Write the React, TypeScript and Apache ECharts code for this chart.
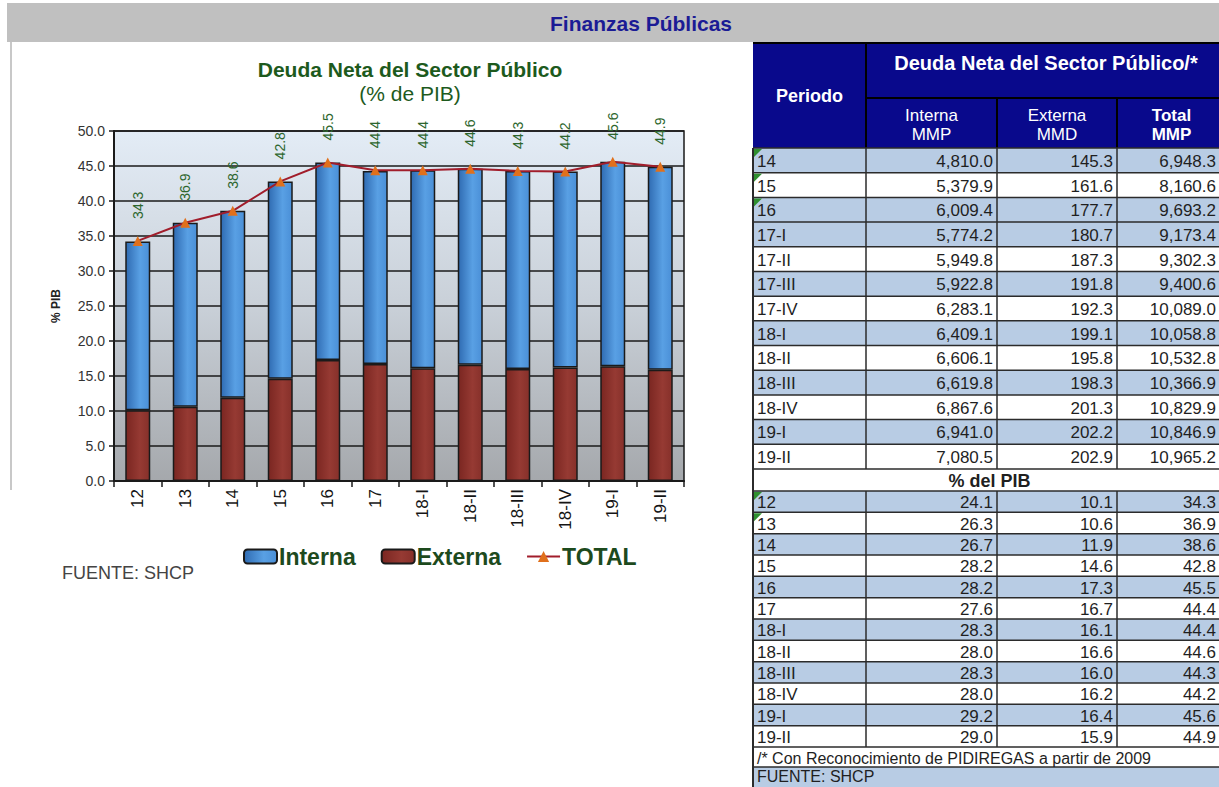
import React, { useEffect, useRef } from "react";
import * as echarts from "echarts";

// ---------- chart data ----------
const categories = ["12", "13", "14", "15", "16", "17", "18-I", "18-II", "18-III", "18-IV", "19-I", "19-II"];
const internaPct = [24.1, 26.3, 26.7, 28.2, 28.2, 27.6, 28.3, 28.0, 28.3, 28.0, 29.2, 29.0];
const externaPct = [10.1, 10.6, 11.9, 14.6, 17.3, 16.7, 16.1, 16.6, 16.0, 16.2, 16.4, 15.9];
const totalPct = [34.3, 36.9, 38.6, 42.8, 45.5, 44.4, 44.4, 44.6, 44.3, 44.2, 45.6, 44.9];
const yTicks = [0, 5, 10, 15, 20, 25, 30, 35, 40, 45, 50];

// ---------- table data ----------
const periodsMM = ["14", "15", "16", "17-I", "17-II", "17-III", "17-IV", "18-I", "18-II", "18-III", "18-IV", "19-I", "19-II"];
const internaMMP = [4810.0, 5379.9, 6009.4, 5774.2, 5949.8, 5922.8, 6283.1, 6409.1, 6606.1, 6619.8, 6867.6, 6941.0, 7080.5];
const externaMMD = [145.3, 161.6, 177.7, 180.7, 187.3, 191.8, 192.3, 199.1, 195.8, 198.3, 201.3, 202.2, 202.9];
const totalMMP = [6948.3, 8160.6, 9693.2, 9173.4, 9302.3, 9400.6, 10089.0, 10058.8, 10532.8, 10366.9, 10829.9, 10846.9, 10965.2];
const bandMM = [1, 0, 1, 1, 0, 1, 0, 1, 0, 1, 0, 1, 0];
const flagMM = [1, 1, 1, 0, 0, 0, 0, 0, 0, 0, 0, 0, 0];
const bandPct = [1, 0, 1, 0, 1, 0, 1, 0, 1, 0, 1, 0];
const flagPct = [1, 1, 0, 0, 0, 0, 0, 0, 0, 0, 0, 0];

const FONT = "'Liberation Sans', Arial, sans-serif";

function fmt(v: number) {
  return v.toLocaleString("en-US", { minimumFractionDigits: 1, maximumFractionDigits: 1 });
}

function buildTable(): any[] {
  const els: any[] = [];
  const cols = [753, 866, 997, 1117, 1226];
  const L = cols[0];
  const R = cols[4];
  const totalRight = 1216;
  const HT = 43, HM = 98, HB = 148;
  const s1Top = HB, s1H = (469 - HB) / periodsMM.length;
  const pibTop = 469, pibH = 22;
  const s2Top = 491, s2H = (747 - 491) / categories.length;
  const noteTop = 747, noteH = 20;
  const srcTop = 767;
  const blue = "#b8cce4";
  const lineC = "#2b2b2b";
  const txt = "#1f1f1f";

  const rect = (x: number, y: number, w: number, h: number, fill: string) =>
    els.push({ type: "rect", z: 1, silent: true, shape: { x, y, width: w, height: h }, style: { fill } });
  const line = (x1: number, y1: number, x2: number, y2: number, w = 1.5, c = lineC) =>
    els.push({ type: "line", z: 2, silent: true, shape: { x1, y1, x2, y2 }, style: { stroke: c, lineWidth: w } });
  const text = (t: string, x: number, y: number, opt: any = {}) =>
    els.push({
      type: "text", z: 3, silent: true,
      style: {
        text: t, x, y, fill: opt.fill || txt, fontSize: opt.size || 17, fontWeight: opt.weight || "normal",
        fontFamily: FONT, align: opt.align || "left", verticalAlign: "middle", lineHeight: opt.lh,
      },
    });
  const flag = (x: number, y: number) =>
    els.push({ type: "polygon", z: 4, silent: true, shape: { points: [[x, y], [x + 8, y], [x, y + 8]] }, style: { fill: "#2f8f2f" } });

  // header
  rect(L, HT, R - L, HB - HT, "#09098c");
  line(L, HT, R, HT, 2, "#000");
  line(cols[1], HT, cols[1], HB, 2, "#000");
  line(cols[1], HM, R, HM, 2, "#000");
  line(cols[2], HM, cols[2], HB, 2, "#000");
  line(cols[3], HM, cols[3], HB, 2, "#000");
  text("Periodo", (cols[0] + cols[1]) / 2, 96, { fill: "#fff", size: 18, weight: "bold", align: "center" });
  text("Deuda Neta del Sector Público/*", (cols[1] + cols[4]) / 2, 63, { fill: "#fff", size: 20, weight: "bold", align: "center" });
  text("Interna\nMMP", (cols[1] + cols[2]) / 2, 125, { fill: "#fff", size: 17, align: "center", lh: 19 });
  text("Externa\nMMD", (cols[2] + cols[3]) / 2, 125, { fill: "#fff", size: 17, align: "center", lh: 19 });
  text("Total\nMMP", (cols[3] + cols[4]) / 2, 125, { fill: "#fff", size: 17, weight: "bold", align: "center", lh: 19 });

  // section 1
  periodsMM.forEach((p, i) => {
    const y = s1Top + i * s1H;
    rect(L, y, R - L, s1H, bandMM[i] ? blue : "#fff");
    line(L, y, R, y);
    const cy = y + s1H / 2 + 1;
    text(p, L + 4, cy);
    text(fmt(internaMMP[i]), cols[2] - 4, cy, { align: "right" });
    text(fmt(externaMMD[i]), cols[3] - 4, cy, { align: "right" });
    text(fmt(totalMMP[i]), totalRight, cy, { align: "right" });
    if (flagMM[i]) flag(L + 1, y + 1);
  });
  line(L, HB, L, pibTop + 0, 2);
  for (let c = 1; c < 4; c++) line(cols[c], HB, cols[c], pibTop, 1.5);

  // % del PIB row
  rect(L, pibTop, R - L, pibH, "#fff");
  line(L, pibTop, R, pibTop);
  text("% del PIB", (L + R) / 2, pibTop + pibH / 2 + 1, { size: 18, weight: "bold", align: "center" });

  // section 2
  categories.forEach((p, i) => {
    const y = s2Top + i * s2H;
    rect(L, y, R - L, s2H, bandPct[i] ? blue : "#fff");
    line(L, y, R, y);
    const cy = y + s2H / 2 + 1;
    text(p, L + 4, cy);
    text(internaPct[i].toFixed(1), cols[2] - 4, cy, { align: "right" });
    text(externaPct[i].toFixed(1), cols[3] - 4, cy, { align: "right" });
    text(totalPct[i].toFixed(1), totalRight, cy, { align: "right" });
    if (flagPct[i]) flag(L + 1, y + 1);
  });
  for (let c = 1; c < 4; c++) line(cols[c], s2Top, cols[c], noteTop, 1.5);

  // footnote + source
  rect(L, noteTop, R - L, noteH, "#fff");
  line(L, noteTop, R, noteTop);
  text("/* Con Reconocimiento de PIDIREGAS a partir de 2009", L + 4, noteTop + noteH / 2 + 1, { size: 16 });
  rect(L, srcTop, R - L, 787 - srcTop + 2, blue);
  line(L, srcTop, R, srcTop);
  text("FUENTE: SHCP", L + 4, 776, { size: 16 });
  line(L, pibTop, L, 787, 2);
  return els;
}

export default function App() {
  const ref = useRef<HTMLDivElement>(null);
  useEffect(() => {
    if (!ref.current) return;
    const chart = echarts.init(ref.current, undefined, { renderer: "svg" });
    const dark = "#1a1a1a";
    const option: any = {
      animation: false,
      backgroundColor: "#ffffff",
      textStyle: { fontFamily: FONT },
      title: {
        text: "Deuda Neta del Sector Público",
        subtext: "(% de PIB)",
        left: 410,
        top: 59,
        textAlign: "center",
        itemGap: 3,
        textStyle: { fontFamily: FONT, fontSize: 21, fontWeight: "bold", color: "#1d5a1d" },
        subtextStyle: { fontFamily: FONT, fontSize: 21, color: "#1d5a1d" },
        padding: 0,
      },
      legend: {
        data: ["Interna", "Externa", "TOTAL"],
        left: 243,
        top: 545,
        padding: 0,
        itemWidth: 33,
        itemHeight: 14,
        itemGap: 25,
        textStyle: { fontFamily: FONT, fontSize: 23, fontWeight: "bold", color: "#1d4a1d", padding: [0, 0, 0, -3] },
      },
      grid: {
        left: 114,
        top: 131,
        width: 570,
        height: 350,
        show: true,
        borderColor: dark,
        borderWidth: 1.5,
        backgroundColor: new echarts.graphic.LinearGradient(0, 0, 0, 1, [
          { offset: 0, color: "#e3ecf6" },
          { offset: 0.5, color: "#c9d0d8" },
          { offset: 1, color: "#a5a8ac" },
        ]),
      },
      xAxis: {
        type: "category",
        data: categories,
        axisLine: { show: true, lineStyle: { color: dark, width: 2 } },
        axisTick: { show: true, length: 6, interval: 0, lineStyle: { color: dark, width: 1.5 } },
        axisLabel: { rotate: 90, interval: 0, fontSize: 17, color: "#151515", margin: 8, fontFamily: FONT },
      },
      yAxis: {
        type: "value",
        min: yTicks[0],
        max: yTicks[yTicks.length - 1],
        interval: yTicks[1] - yTicks[0],
        name: "% PIB",
        nameLocation: "middle",
        nameGap: 52,
        nameRotate: 90,
        nameTextStyle: { fontFamily: FONT, fontSize: 12, fontWeight: "bold", color: "#222" },
        axisLine: { show: true, lineStyle: { color: dark, width: 2 } },
        axisTick: { show: true, length: 5, lineStyle: { color: dark, width: 1.5 } },
        axisLabel: { formatter: (v: number) => v.toFixed(1), fontSize: 14, color: "#333", margin: 9, fontFamily: FONT },
        splitLine: { show: true, lineStyle: { color: dark, width: 1.5 } },
      },
      series: [
        {
          name: "Externa",
          type: "bar",
          stack: "t",
          barWidth: 25,
          data: externaPct,
          itemStyle: {
            color: new echarts.graphic.LinearGradient(0, 0, 1, 0, [
              { offset: 0, color: "#7a2621" },
              { offset: 0.6, color: "#963a33" },
              { offset: 1, color: "#86302a" },
            ]),
            borderColor: dark,
            borderWidth: 1.5,
          },
        },
        {
          name: "Interna",
          type: "bar",
          stack: "t",
          barWidth: 25,
          data: internaPct,
          itemStyle: {
            color: new echarts.graphic.LinearGradient(0, 0, 1, 0, [
              { offset: 0, color: "#2f6bb2" },
              { offset: 0.6, color: "#59a0e4" },
              { offset: 1, color: "#4a8fd7" },
            ]),
            borderColor: dark,
            borderWidth: 1.5,
          },
        },
        {
          name: "TOTAL",
          type: "line",
          data: totalPct,
          symbol: "triangle",
          symbolSize: 10,
          z: 5,
          itemStyle: { color: "#e0701c" },
          lineStyle: { color: "#a11d2b", width: 2 },
          label: {
            show: true,
            position: "top",
            rotate: 90,
            align: "left",
            verticalAlign: "middle",
            distance: 17,
            fontSize: 14,
            color: "#2d662d",
            fontFamily: FONT,
            formatter: (p: any) => p.value.toFixed(1),
          },
        },
      ],
      graphic: [
        { type: "rect", z: 0, silent: true, shape: { x: 7, y: 3, width: 1212, height: 39 }, style: { fill: "#c0c0c0" } },
        {
          type: "text", z: 3, silent: true,
          style: { text: "Finanzas Públicas", x: 641, y: 23, fill: "#1b1b95", fontSize: 21, fontWeight: "bold", fontFamily: FONT, align: "center", verticalAlign: "middle" },
        },
        { type: "line", z: 0, silent: true, shape: { x1: 11, y1: 42, x2: 11, y2: 490 }, style: { stroke: "#c8c8c8", lineWidth: 2 } },
        {
          type: "text", z: 3, silent: true,
          style: { text: "FUENTE: SHCP", x: 62, y: 573, fill: "#444", fontSize: 18, fontFamily: FONT, align: "left", verticalAlign: "middle" },
        },
        ...buildTable(),
      ],
    };
    chart.setOption(option);
    return () => chart.dispose();
  }, []);
  return (
    <div style={{ position: "fixed", left: 0, top: 0, width: 1219, height: 787, overflow: "hidden", background: "#fff" }}>
      <div ref={ref} style={{ width: 1219, height: 787 }} />
    </div>
  );
}
